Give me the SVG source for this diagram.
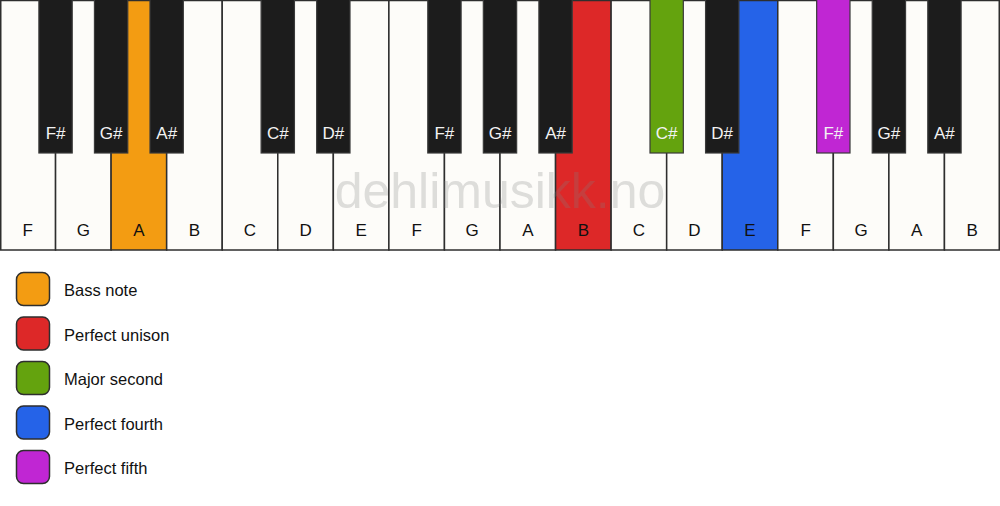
<svg xmlns="http://www.w3.org/2000/svg" width="1000" height="506" viewBox="0 0 1000 506">
<style>
.w{fill:#fdfcf9;stroke:#2e2e2e;stroke-width:1.5}
.b{fill:#1c1c1c;stroke:#3a3a3a;stroke-width:1.2}
.wl{font-family:"Liberation Sans",Arial,sans-serif;font-size:17px;fill:#111;text-anchor:middle}
.bl{font-family:"Liberation Sans",Arial,sans-serif;font-size:17px;fill:#f2f2f2;text-anchor:middle}
.lg{stroke:#2e2e2e;stroke-width:1.5}
.lt{font-family:"Liberation Sans",Arial,sans-serif;font-size:16.5px;fill:#111}
.wm{font-family:"Liberation Sans",Arial,sans-serif;font-size:50px;fill:#808080;fill-opacity:0.25;text-anchor:middle}
</style>
<rect x="0" y="0" width="1000" height="506" fill="#ffffff"/>
<g id="white-keys">
<g id="wk-F1"><rect class="w" x="0.75" y="0.5" width="54.81" height="249.5"/><text class="wl" x="27.8" y="236">F</text></g>
<g id="wk-G1"><rect class="w" x="55.56" y="0.5" width="55.56" height="249.5"/><text class="wl" x="83.3" y="236">G</text></g>
<g id="wk-A1"><rect class="w" x="111.11" y="0.5" width="55.56" height="249.5" style="fill:#f39c12"/><text class="wl" x="138.9" y="236">A</text></g>
<g id="wk-B1"><rect class="w" x="166.67" y="0.5" width="55.56" height="249.5"/><text class="wl" x="194.4" y="236">B</text></g>
<g id="wk-C1"><rect class="w" x="222.22" y="0.5" width="55.56" height="249.5"/><text class="wl" x="250" y="236">C</text></g>
<g id="wk-D1"><rect class="w" x="277.78" y="0.5" width="55.56" height="249.5"/><text class="wl" x="305.6" y="236">D</text></g>
<g id="wk-E1"><rect class="w" x="333.33" y="0.5" width="55.56" height="249.5"/><text class="wl" x="361.1" y="236">E</text></g>
<g id="wk-F2"><rect class="w" x="388.89" y="0.5" width="55.56" height="249.5"/><text class="wl" x="416.7" y="236">F</text></g>
<g id="wk-G2"><rect class="w" x="444.44" y="0.5" width="55.56" height="249.5"/><text class="wl" x="472.2" y="236">G</text></g>
<g id="wk-A2"><rect class="w" x="500" y="0.5" width="55.56" height="249.5"/><text class="wl" x="527.8" y="236">A</text></g>
<g id="wk-B2"><rect class="w" x="555.56" y="0.5" width="55.56" height="249.5" style="fill:#dd2828"/><text class="wl" x="583.3" y="236">B</text></g>
<g id="wk-C2"><rect class="w" x="611.11" y="0.5" width="55.56" height="249.5"/><text class="wl" x="638.9" y="236">C</text></g>
<g id="wk-D2"><rect class="w" x="666.67" y="0.5" width="55.56" height="249.5"/><text class="wl" x="694.4" y="236">D</text></g>
<g id="wk-E2"><rect class="w" x="722.22" y="0.5" width="55.56" height="249.5" style="fill:#2563e8"/><text class="wl" x="750" y="236">E</text></g>
<g id="wk-F3"><rect class="w" x="777.78" y="0.5" width="55.56" height="249.5"/><text class="wl" x="805.6" y="236">F</text></g>
<g id="wk-G3"><rect class="w" x="833.33" y="0.5" width="55.56" height="249.5"/><text class="wl" x="861.1" y="236">G</text></g>
<g id="wk-A3"><rect class="w" x="888.89" y="0.5" width="55.56" height="249.5"/><text class="wl" x="916.7" y="236">A</text></g>
<g id="wk-B3"><rect class="w" x="944.44" y="0.5" width="54.81" height="249.5"/><text class="wl" x="972.2" y="236">B</text></g>
</g>
<text class="wm" x="500" y="208">dehlimusikk.no</text>
<g id="black-keys">
<g id="bk-Fs1"><rect class="b" x="38.89" y="-1" width="33.33" height="154"/><text class="bl" x="55.6" y="139">F#</text></g>
<g id="bk-Gs1"><rect class="b" x="94.44" y="-1" width="33.33" height="154"/><text class="bl" x="111.1" y="139">G#</text></g>
<g id="bk-As1"><rect class="b" x="150" y="-1" width="33.33" height="154"/><text class="bl" x="166.7" y="139">A#</text></g>
<g id="bk-Cs1"><rect class="b" x="261.11" y="-1" width="33.33" height="154"/><text class="bl" x="277.8" y="139">C#</text></g>
<g id="bk-Ds1"><rect class="b" x="316.67" y="-1" width="33.33" height="154"/><text class="bl" x="333.3" y="139">D#</text></g>
<g id="bk-Fs2"><rect class="b" x="427.78" y="-1" width="33.33" height="154"/><text class="bl" x="444.4" y="139">F#</text></g>
<g id="bk-Gs2"><rect class="b" x="483.33" y="-1" width="33.33" height="154"/><text class="bl" x="500" y="139">G#</text></g>
<g id="bk-As2"><rect class="b" x="538.89" y="-1" width="33.33" height="154"/><text class="bl" x="555.6" y="139">A#</text></g>
<g id="bk-Cs2"><rect class="b" x="650" y="-1" width="33.33" height="154" style="fill:#64a30e"/><text class="bl" x="666.7" y="139">C#</text></g>
<g id="bk-Ds2"><rect class="b" x="705.56" y="-1" width="33.33" height="154"/><text class="bl" x="722.2" y="139">D#</text></g>
<g id="bk-Fs3"><rect class="b" x="816.67" y="-1" width="33.33" height="154" style="fill:#c026d3"/><text class="bl" x="833.3" y="139">F#</text></g>
<g id="bk-Gs3"><rect class="b" x="872.22" y="-1" width="33.33" height="154"/><text class="bl" x="888.9" y="139">G#</text></g>
<g id="bk-As3"><rect class="b" x="927.78" y="-1" width="33.33" height="154"/><text class="bl" x="944.4" y="139">A#</text></g>
</g>
<g id="legend">
<g id="lg-bass"><rect class="lg" x="16.5" y="272.5" width="33" height="33" rx="7" fill="#f39c12"/><text class="lt" x="64" y="296">Bass note</text></g>
<g id="lg-unison"><rect class="lg" x="16.5" y="317" width="33" height="33" rx="7" fill="#dd2828"/><text class="lt" x="64" y="340.5">Perfect unison</text></g>
<g id="lg-second"><rect class="lg" x="16.5" y="361.5" width="33" height="33" rx="7" fill="#64a30e"/><text class="lt" x="64" y="385">Major second</text></g>
<g id="lg-fourth"><rect class="lg" x="16.5" y="406" width="33" height="33" rx="7" fill="#2563e8"/><text class="lt" x="64" y="429.5">Perfect fourth</text></g>
<g id="lg-fifth"><rect class="lg" x="16.5" y="450.5" width="33" height="33" rx="7" fill="#c026d3"/><text class="lt" x="64" y="474">Perfect fifth</text></g>
</g>
</svg>
